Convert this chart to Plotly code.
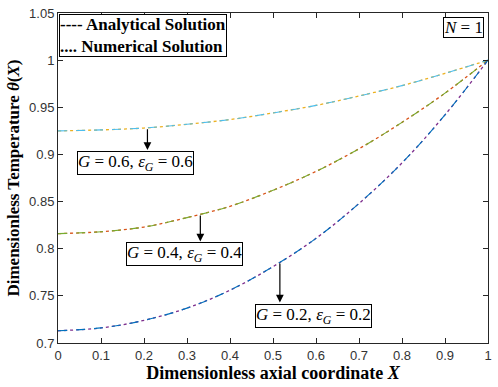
import numpy as np
import plotly.graph_objects as go

X = [0, 0.1, 0.2, 0.3, 0.4, 0.5, 0.6, 0.7, 0.8, 0.9, 1.0]
theta_g06 = [0.925, 0.926, 0.928, 0.932, 0.937, 0.944, 0.952, 0.962, 0.973, 0.986, 1.0]
theta_g04 = [0.816, 0.818, 0.823, 0.833, 0.845, 0.862, 0.882, 0.906, 0.934, 0.965, 1.0]
theta_g02 = [0.713, 0.716, 0.724, 0.737, 0.756, 0.781, 0.811, 0.848, 0.891, 0.942, 1.0]

x_ticks = [0, 0.1, 0.2, 0.3, 0.4, 0.5, 0.6, 0.7, 0.8, 0.9, 1]
x_ticklabels = ["0", "0.1", "0.2", "0.3", "0.4", "0.5", "0.6", "0.7", "0.8", "0.9", "1"]
y_ticks = [0.7, 0.75, 0.8, 0.85, 0.9, 0.95, 1.0, 1.05]
y_ticklabels = ["0.7", "0.75", "0.8", "0.85", "0.9", "0.95", "1", "1.05"]

series = [
    (theta_g06, "#4DBEEE", "#EDB120"),
    (theta_g04, "#77AC30", "#D95319"),
    (theta_g02, "#0072BD", "#7E2F8E"),
]

fig = go.Figure()
for ys, c_an, c_num in series:
    fig.add_trace(go.Scatter(x=X, y=ys, mode="lines", line=dict(color=c_num, width=1.3, dash="dot", shape="spline"),
                             showlegend=False))
    fig.add_trace(go.Scatter(x=X, y=ys, mode="lines", line=dict(color=c_an, width=1.1, dash="dash", shape="spline"),
                             showlegend=False))

serif = "Liberation Serif, Times New Roman, serif"
anns = []

labels = [
    ("<i>G</i> = 0.6, <i>ε<sub>G</sub></i> = 0.6", theta_g06, 0.208, 0.9046, 0.181, 0.8908),
    ("<i>G</i> = 0.4, <i>ε<sub>G</sub></i> = 0.4", theta_g04, 0.331, 0.8076, 0.2935, 0.7942),
    ("<i>G</i> = 0.2, <i>ε<sub>G</sub></i> = 0.2", theta_g02, 0.516, 0.743, 0.5935, 0.7288),
]
for txt, ys, xa, tip_y, bx, by in labels:
    tail_y = float(np.interp(xa, X, ys))
    anns.append(dict(x=xa, y=tip_y, ax=xa, ay=tail_y, axref="x", ayref="y", xref="x", yref="y",
                     text="", showarrow=True, arrowhead=2, arrowsize=1.3, arrowwidth=1.2, arrowcolor="black"))
    anns.append(dict(x=bx, y=by, xref="x", yref="y", text=txt, showarrow=False,
                     font=dict(family=serif, size=17, color="black"),
                     bordercolor="black", borderwidth=1, bgcolor="white", borderpad=0))

anns.append(dict(x=0.003, y=0.997, xref="paper", yref="paper", xanchor="left", yanchor="top",
                 text="<b>---- Analytical Solution<br>.... Numerical Solution</b>", align="left",
                 showarrow=False, font=dict(family=serif, size=17, color="black"),
                 bordercolor="black", borderwidth=1, bgcolor="white", borderpad=0))
anns.append(dict(x=0.99, y=0.988, xref="paper", yref="paper", xanchor="right", yanchor="top",
                 text="<i>N</i> = 1", showarrow=False, font=dict(family=serif, size=17, color="black"),
                 bordercolor="black", borderwidth=1, bgcolor="white", borderpad=0))

axis_common = dict(showgrid=False, zeroline=False, showline=True, linecolor="#262626", linewidth=1,
                   mirror="ticks", ticks="inside", ticklen=5, tickcolor="#262626",
                   tickfont=dict(family="Liberation Sans, Arial, sans-serif", size=13, color="#333333"))

fig.update_layout(
    width=498, height=387,
    margin=dict(l=58, r=6, t=9, b=44),
    paper_bgcolor="white", plot_bgcolor="white",
    xaxis=dict(range=[0, 1], tickvals=x_ticks, ticktext=x_ticklabels, ticklabeloverflow="allow",
               title=dict(text="<b>Dimensionless axial coordinate <i>X</i></b>", standoff=3,
                          font=dict(family=serif, size=18, color="black")), **axis_common),
    yaxis=dict(range=[0.7, 1.05], tickvals=y_ticks, ticktext=y_ticklabels, ticklabeloverflow="allow",
               title=dict(text="<b>Dimensionless Temperature <i>θ</i>(<i>X</i>)</b>", standoff=5,
                          font=dict(family=serif, size=17, color="black")), **axis_common),
    annotations=anns,
)
# remove the browser's default body margin so the figure sits at the page's top-left corner
post = ("document.body.style.margin='0';document.body.style.overflow='hidden';"
        "var gd=document.getElementById('{plot_id}');Plotly.relayout(gd,{'xaxis.ticklabeloverflow':'allow'});")
fig.write_html("out.html", post_script=post, config={"displayModeBar": False})
